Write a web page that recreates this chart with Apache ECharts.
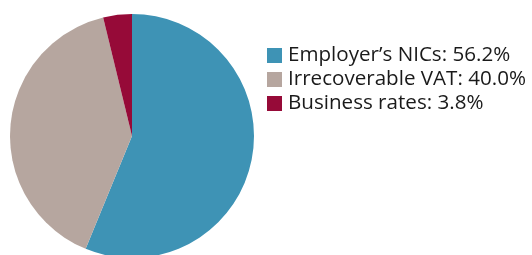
<!DOCTYPE html>
<html>
<head>
<meta charset="utf-8">
<script src="https://cdn.jsdelivr.net/npm/echarts@6/dist/echarts.min.js"></script>
<style>
html, body { margin: 0; padding: 0; background: #fff; }
#main { width: 532px; height: 255px; }
</style>
</head>
<body>
<div id="main"></div>
<script>
var names = ['Employer\u2019s NICs', 'Irrecoverable VAT', 'Business rates'];
var values = [56.2, 40.0, 3.8];
var colors = ['#3e93b5', '#b6a69f', '#960a38'];

var pieData = [];
for (var i = 0; i < names.length; i++) {
	pieData.push({ name: names[i], value: values[i], itemStyle: { color: colors[i] } });
}

var myChart = echarts.init(document.getElementById('main'));
var option = {
	animation: false,
	legend: {
		orient: 'vertical',
		left: 262,
		top: 45,
		padding: [0, 5],
		itemWidth: 15,
		itemHeight: 15,
		itemGap: 3,
		icon: 'rect',
		textStyle: {
			fontFamily: 'Open Sans',
			fontSize: 20.6,
			lineHeight: 21,
			color: '#1a1a1a',
			padding: [0, 0, 0, 1]
		},
		formatter: function(name) {
			var idx = names.indexOf(name);
			return name + ': ' + values[idx].toFixed(1) + '%';
		},
		data: names
	},
	series: [{
		type: 'pie',
		center: [132, 136],
		radius: 122,
		startAngle: 90,
		clockwise: true,
		label: { show: false },
		labelLine: { show: false },
		emphasis: { disabled: true },
		itemStyle: { borderWidth: 0 },
		data: pieData
	}]
};
myChart.setOption(option);
</script>
</body>
</html>
